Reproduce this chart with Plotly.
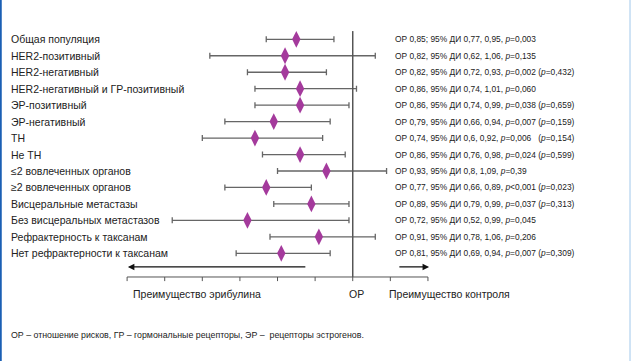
import plotly.graph_objects as go

categories = [
    "Общая популяция", "HER2-позитивный", "HER2-негативный",
    "HER2-негативный и ГР-позитивный", "ЭР-позитивный", "ЭР-негативный",
    "ТН", "Не ТН", "≤2 вовлеченных органов", "≥2 вовлеченных органов",
    "Висцеральные метастазы", "Без висцеральных метастазов",
    "Рефрактерность к таксанам", "Нет рефрактерности к таксанам",
]
hr = [0.85, 0.82, 0.82, 0.86, 0.86, 0.79, 0.74, 0.86, 0.93, 0.77, 0.89, 0.72, 0.91, 0.81]
ci_low = [0.77, 0.62, 0.72, 0.74, 0.74, 0.66, 0.60, 0.76, 0.80, 0.66, 0.79, 0.52, 0.78, 0.69]
ci_high = [0.95, 1.06, 0.93, 1.01, 0.99, 0.94, 0.92, 0.98, 1.09, 0.89, 0.99, 0.99, 1.06, 0.94]
stats = [
    "ОР 0,85; 95% ДИ 0,77, 0,95, <i>p</i>=0,003",
    "ОР 0,82, 95% ДИ 0,62, 1,06, <i>p</i>=0,135",
    "ОР 0,82, 95% ДИ 0,72, 0,93, <i>p</i>=0,002 (<i>p</i>=0,432)",
    "ОР 0,86, 95% ДИ 0,74, 1,01, <i>p</i>=0,060",
    "ОР 0,86, 95% ДИ 0,74, 0,99, <i>p</i>=0,038 (<i>p</i>=0,659)",
    "ОР 0,79, 95% ДИ 0,66, 0,94, <i>p</i>=0,007 (<i>p</i>=0,159)",
    "ОР 0,74, 95% ДИ 0,6, 0,92, <i>p</i>=0,006   (<i>p</i>=0,154)",
    "ОР 0,86, 95% ДИ 0,76, 0,98, <i>p</i>=0,024 (<i>p</i>=0,599)",
    "ОР 0,93, 95% ДИ 0,8, 1,09, <i>p</i>=0,39",
    "ОР 0,77, 95% ДИ 0,66, 0,89, <i>p</i>&lt;0,001 (<i>p</i>=0,023)",
    "ОР 0,89, 95% ДИ 0,79, 0,99, <i>p</i>=0,037 (<i>p</i>=0,313)",
    "ОР 0,72, 95% ДИ 0,52, 0,99, <i>p</i>=0,045",
    "ОР 0,91, 95% ДИ 0,78, 1,06, <i>p</i>=0,206",
    "ОР 0,81, 95% ДИ 0,69, 0,94, <i>p</i>=0,007 (<i>p</i>=0,309)",
]
tick_vals = [0.4, 0.5, 0.6, 0.7, 0.8, 0.9, 1.0, 1.1, 1.2]
ref_value = 1.0
label_left = "Преимущество эрибулина"
label_mid = "ОР"
label_right = "Преимущество контроля"
footnote = "ОР – отношение рисков, ГР – гормональные рецепторы, ЭР –  рецепторы эстрогенов."

FONT = "Liberation Sans Narrow, Arial Narrow, Liberation Sans, Arial, sans-serif"
TXT = "#222222"
W, H = 631, 361
rows = list(range(len(categories)))

fig = go.Figure()
fig.add_trace(go.Scatter(
    x=hr, y=rows, mode="markers",
    marker=dict(symbol="diamond-tall", size=12, color="#A43A9C"),
    error_x=dict(type="data", symmetric=False,
                 array=[h - v for h, v in zip(ci_high, hr)],
                 arrayminus=[v - l for v, l in zip(hr, ci_low)],
                 color="#666666", thickness=1.3, width=3),
    hoverinfo="skip", showlegend=False,
))

axis_y = 14.44
fig.add_shape(type="line", x0=ref_value, x1=ref_value, y0=-0.5, y1=axis_y,
              line=dict(color="#555555", width=1.5))
fig.add_shape(type="line", x0=tick_vals[0], x1=tick_vals[-1], y0=axis_y, y1=axis_y,
              line=dict(color="#555555", width=1))
for t in tick_vals:
    fig.add_shape(type="line", x0=t, x1=t, y0=axis_y, y1=axis_y + 0.25,
                  line=dict(color="#555555", width=1))

# arrows
fig.add_annotation(x=0.402, y=13.83, ax=0.878, ay=13.83, xref="x", yref="y",
                   axref="x", ayref="y", text="", showarrow=True,
                   arrowhead=2, arrowsize=1, arrowwidth=1.3, arrowcolor="#111111")
fig.add_annotation(x=1.203, y=13.83, ax=1.12, ay=13.83, xref="x", yref="y",
                   axref="x", ayref="y", text="", showarrow=True,
                   arrowhead=2, arrowsize=1, arrowwidth=1.3, arrowcolor="#111111")

for i, (c, s) in enumerate(zip(categories, stats)):
    fig.add_annotation(x=9 / W, xref="paper", y=i, yref="y", text=c, showarrow=False,
                       xanchor="left", yanchor="middle",
                       font=dict(family=FONT, size=10.5, color=TXT))
    fig.add_annotation(x=393 / W, xref="paper", y=i, yref="y", text=s, showarrow=False,
                       xanchor="left", yanchor="middle",
                       font=dict(family=FONT, size=8.4, color=TXT))

fig.add_annotation(x=131 / W, xref="paper", y=15.47, yref="y", text=label_left,
                   showarrow=False, xanchor="left", yanchor="middle",
                   font=dict(family=FONT, size=10.5, color=TXT))
fig.add_annotation(x=1.01, xref="x", y=15.47, yref="y", text=label_mid,
                   showarrow=False, xanchor="center", yanchor="middle",
                   font=dict(family=FONT, size=10.5, color=TXT))
fig.add_annotation(x=387 / W, xref="paper", y=15.47, yref="y", text=label_right,
                   showarrow=False, xanchor="left", yanchor="middle",
                   font=dict(family=FONT, size=10.5, color=TXT))
fig.add_annotation(x=9 / W, xref="paper", y=17.96, yref="y", text=footnote,
                   showarrow=False, xanchor="left", yanchor="middle",
                   font=dict(family=FONT, size=8.8, color=TXT))

# borders
fig.add_shape(type="line", xref="paper", yref="paper", x0=0.0012, x1=0.0012, y0=0, y1=1,
              line=dict(color="#1a5fb4", width=2))
fig.add_shape(type="line", xref="paper", yref="paper", x0=0.9985, x1=0.9985, y0=0, y1=1,
              line=dict(color="#cfe3f5", width=2))

fig.update_layout(
    width=W, height=H, margin=dict(l=0, r=0, t=0, b=0),
    paper_bgcolor="white", plot_bgcolor="white",
    xaxis=dict(range=[0.062, 1.740], visible=False, fixedrange=True),
    yaxis=dict(range=[19.544, -2.388], visible=False, fixedrange=True),
)
fig.write_html("out.html", config={"displayModeBar": False},
               post_script="document.body.style.margin='0';document.body.style.overflow='hidden';")
